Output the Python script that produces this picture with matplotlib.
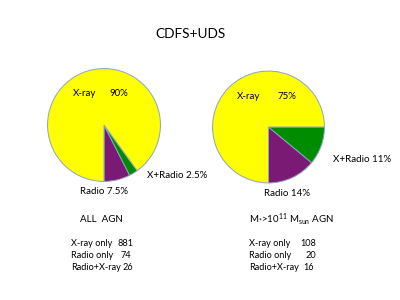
import matplotlib
matplotlib.use("Agg")
import matplotlib.pyplot as plt

plt.rcParams['font.family'] = ['Lato', 'DejaVu Sans']
plt.rcParams['mathtext.fontset'] = 'custom'
plt.rcParams['mathtext.rm'] = 'Lato'
plt.rcParams['mathtext.it'] = 'Lato:italic'

# slice order: Radio, X+Radio, X-ray (counter-clockwise from the bottom)
colors = ['#7b1a74', '#008c00', '#ffff00']
all_share = [7.5, 2.5, 90]
massive_share = [14, 11, 75]

all_counts = [881, 74, 26]
massive_counts = [108, 20, 16]
count_names = ['X-ray only', 'Radio only', 'Radio+X-ray']

W, H = 400, 300
fig = plt.figure(figsize=(4, 3), dpi=100)


def px(x, y):
    return x / W, 1 - y / H


def pie_axes(cx, cy, r):
    ax = fig.add_axes([(cx - r) / W, 1 - (cy + r) / H, 2 * r / W, 2 * r / H])
    return ax


def draw_pie(ax, values):
    ax.pie(values, colors=colors, startangle=270, counterclock=True,
           wedgeprops=dict(edgecolor='#8aa4c4', linewidth=0.7))
    ax.set_xlim(-1.01, 1.01)
    ax.set_ylim(-1.01, 1.01)
    ax.axis('off')


ax1 = pie_axes(104, 125, 57)
draw_pie(ax1, all_share)
ax2 = pie_axes(268.5, 127, 56.5)
draw_pie(ax2, massive_share)

fs = 7
cfs = 6.6
fig.text(*px(190, 34), 'CDFS+UDS', ha='center', va='center', fontsize=9.8)

# left pie labels
fig.text(*px(85, 93), 'X-ray', ha='center', va='center', fontsize=fs)
fig.text(*px(119, 93), '%g%%' % all_share[2], ha='center', va='center', fontsize=fs)
fig.text(*px(147, 175), 'X+Radio %g%%' % all_share[1], ha='left', va='center', fontsize=fs)
fig.text(*px(104, 192), 'Radio %g%%' % all_share[0], ha='center', va='center', fontsize=fs)

# right pie labels
fig.text(*px(249, 96), 'X-ray', ha='center', va='center', fontsize=fs)
fig.text(*px(287, 96), '%g%%' % massive_share[2], ha='center', va='center', fontsize=fs)
fig.text(*px(333, 159), 'X+Radio %g%%' % massive_share[1], ha='left', va='center', fontsize=fs)
fig.text(*px(287, 193), 'Radio %g%%' % massive_share[0], ha='center', va='center', fontsize=fs)

# sample titles
fig.text(*px(101, 220), 'ALL  AGN', ha='center', va='center', fontsize=fs)
fig.text(*px(249, 220), r'M$_{*}$>10$^{11}$ M$_{\mathrm{sun}}$ AGN', ha='left',
         va='center', fontsize=fs)

# counts
left_num_end = [134, 131, 133]
right_num_end = [316, 316, 314]
for i, name in enumerate(count_names):
    y = 244 + 12 * i
    fig.text(*px(71, y), name, ha='left', va='center', fontsize=cfs)
    fig.text(*px(left_num_end[i], y), str(all_counts[i]), ha='right', va='center', fontsize=cfs)
    fig.text(*px(249, y - 1), name, ha='left', va='center', fontsize=cfs)
    fig.text(*px(right_num_end[i], y - 1), str(massive_counts[i]), ha='right', va='center',
             fontsize=cfs)

fig.savefig('out.png', dpi=100)
